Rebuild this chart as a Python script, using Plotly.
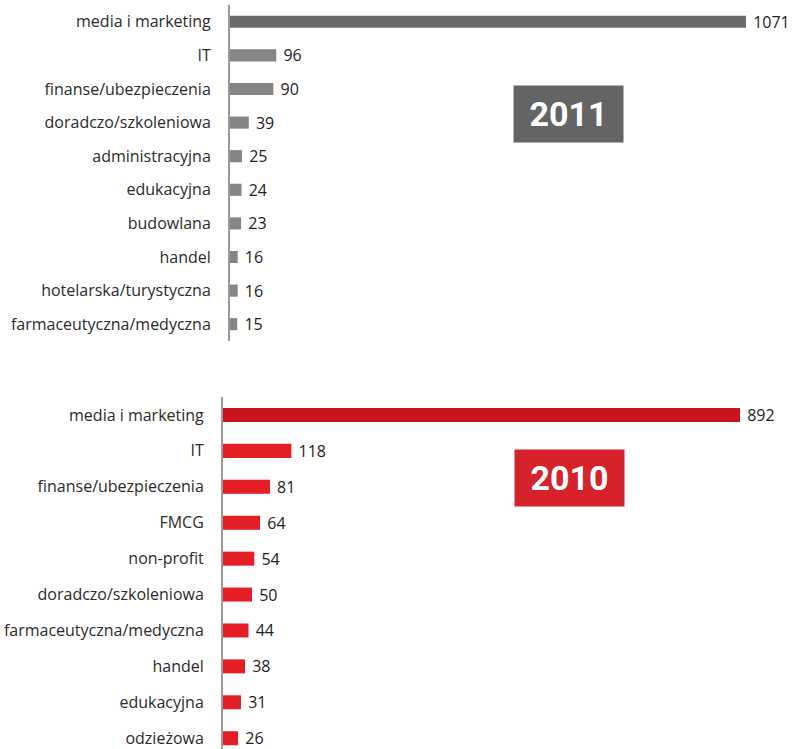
"""Branże pracodawców – porównanie 2011 i 2010."""

import plotly.graph_objects as go

# 2011
cat_2011 = ["media i marketing", "IT", "finanse/ubezpieczenia", "doradczo/szkoleniowa",
            "administracyjna", "edukacyjna", "budowlana", "handel",
            "hotelarska/turystyczna", "farmaceutyczna/medyczna"]
val_2011 = [1071, 96, 90, 39, 25, 24, 23, 16, 16, 15]

# 2010
cat_2010 = ["media i marketing", "IT", "finanse/ubezpieczenia", "FMCG", "non-profit",
            "doradczo/szkoleniowa", "farmaceutyczna/medyczna", "handel",
            "edukacyjna", "odzieżowa"]
val_2010 = [892, 118, 81, 64, 54, 50, 44, 38, 31, 26]

W, H = 798, 749
FONT = "Open Sans, Noto Sans, sans-serif"
BADGE_FONT = "Roboto, Liberation Sans Narrow, sans-serif"
NB = "\u00a0"

gray = ["#6b6b6b"] + ["#858585"] * (len(val_2011) - 1)
red = ["#c8141d"] + ["#e31e24"] * (len(val_2010) - 1)

fig = go.Figure()
fig.add_trace(go.Bar(
    x=val_2011, y=cat_2011, orientation="h", width=0.36,
    marker=dict(color=gray, line_width=0),
    text=[NB + str(v) for v in val_2011], textposition="outside",
    textfont=dict(size=16, color="#222", family=FONT),
    cliponaxis=False, xaxis="x", yaxis="y",
))
fig.add_trace(go.Bar(
    x=val_2010, y=cat_2010, orientation="h", width=0.39,
    marker=dict(color=red, line_width=0),
    text=[NB + str(v) for v in val_2010], textposition="outside",
    textfont=dict(size=16, color="#222", family=FONT),
    cliponaxis=False, xaxis="x2", yaxis="y2",
))

ycommon = dict(showline=True, linecolor="#9a9a9a", linewidth=2, showgrid=False,
               zeroline=False, ticks="", ticklabelstandoff=14,
               tickfont=dict(size=16, color="#2a2a2a", family=FONT))
xcommon = dict(visible=False, showgrid=False, zeroline=False)

badge = dict(xref="paper", yref="paper", xanchor="center", yanchor="middle",
             showarrow=False, width=107, height=54)

fig.update_layout(
    width=W, height=H, margin=dict(l=0, r=0, t=0, b=0),
    paper_bgcolor="white", plot_bgcolor="white", showlegend=False,
    uniformtext=dict(minsize=16, mode="show"),
    xaxis=dict(domain=[230 / W, 746 / W], range=[0, 1071], anchor="y", **xcommon),
    yaxis=dict(domain=[1 - 341 / H, 1 - 5 / H], range=[9.5, -0.5], anchor="x", **ycommon),
    xaxis2=dict(domain=[223 / W, 740 / W], range=[0, 892], anchor="y2", **xcommon),
    yaxis2=dict(domain=[0, 1 - 397 / H], range=[9.3, -0.5], anchor="x2", **ycommon),
    annotations=[
        dict(text="<b>2011</b>", x=568 / W, y=1 - 114 / H, bgcolor="#646464",
             font=dict(size=34, color="white", family=BADGE_FONT), **badge),
        dict(text="<b>2010</b>", x=569 / W, y=1 - 478 / H, bgcolor="#d6222a",
             font=dict(size=34, color="white", family=BADGE_FONT), **badge),
    ],
)

fig.write_html("out.html", config={"displayModeBar": False},
               post_script="document.body.style.margin='0';")
